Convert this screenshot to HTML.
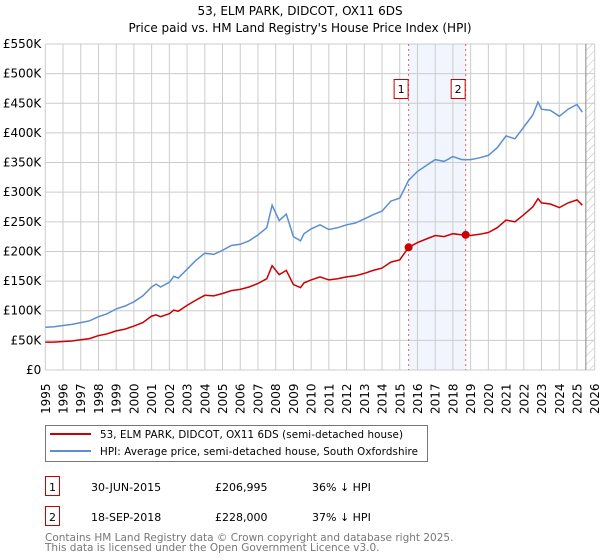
<!DOCTYPE html>
<html><head><meta charset="utf-8"><style>
body{margin:0;background:#fff;font-family:"DejaVu Sans","Liberation Sans",sans-serif;}
svg{display:block}
</style></head><body>
<svg width="600" height="560" viewBox="0 0 600 560" font-family="DejaVu Sans, Liberation Sans, sans-serif">
<text x="300" y="15" text-anchor="middle" font-size="12">53, ELM PARK, DIDCOT, OX11 6DS</text>
<text x="300" y="32" text-anchor="middle" font-size="12">Price paid vs. HM Land Registry's House Price Index (HPI)</text>
<defs><pattern id="hatch" width="6" height="6" patternUnits="userSpaceOnUse" patternTransform="rotate(45)"><line x1="0" y1="0" x2="0" y2="6" stroke="#bbb" stroke-width="1"/></pattern></defs>
<g id="grid"></g>
<g id="plot"></g>
<g id="axes" font-size="12"></g>
<g>
<rect x="45.5" y="425.5" width="382" height="36" fill="#fff" stroke="#777"/>
<line x1="50" y1="434" x2="91" y2="434" stroke="#cc0000" stroke-width="2"/>
<text x="100" y="438" font-size="10.3" textLength="303">53, ELM PARK, DIDCOT, OX11 6DS (semi-detached house)</text>
<line x1="50" y1="451" x2="91" y2="451" stroke="#5b8fd0" stroke-width="2"/>
<text x="100" y="455" font-size="10.3" textLength="318">HPI: Average price, semi-detached house, South Oxfordshire</text>
</g>
<g font-size="11">
<rect x="45.5" y="476.5" width="14" height="19" fill="none" stroke="#cc0000"/>
<text x="52.5" y="491" text-anchor="middle">1</text>
<text x="91" y="491">30-JUN-2015</text><text x="215" y="491">£206,995</text><text x="312" y="491">36% ↓ HPI</text>
<rect x="45.5" y="506.5" width="14" height="19" fill="none" stroke="#cc0000"/>
<text x="52.5" y="521" text-anchor="middle">2</text>
<text x="91" y="521">18-SEP-2018</text><text x="215" y="521">£228,000</text><text x="312" y="521">37% ↓ HPI</text>
</g>
<text x="45" y="541" font-size="10.5" fill="#777">Contains HM Land Registry data © Crown copyright and database right 2025.</text>
<text x="45" y="551" font-size="10.5" fill="#777">This data is licensed under the Open Government Licence v3.0.</text>
</svg>
<script>
const hpiYears=[1995,1995.5,1996,1996.5,1997,1997.5,1998,1998.5,1999,1999.5,2000,2000.5,2001,2001.25,2001.5,2002,2002.25,2002.5,2003,2003.5,2004,2004.5,2005,2005.5,2006,2006.5,2007,2007.5,2007.8,2008.2,2008.6,2009,2009.4,2009.6,2010,2010.5,2011,2011.5,2012,2012.5,2013,2013.5,2014,2014.5,2015,2015.5,2016,2016.5,2017,2017.5,2018,2018.5,2019,2019.5,2020,2020.5,2021,2021.5,2022,2022.5,2022.8,2023,2023.5,2024,2024.5,2025,2025.3];
const hpiValues=[72,73,75,77,80,83,90,95,103,108,115,125,140,145,140,148,158,155,170,185,197,195,202,210,212,218,228,240,278,252,263,225,218,230,238,245,237,240,245,248,255,262,268,285,290,320,335,345,355,352,360,355,355,358,362,375,395,390,410,430,452,440,438,428,440,448,435];
const priceValues=[47,47,48,49,51,53,58,61,66,69,74,80,91,93,90,95,101,99,109,118,126,125,129,134,136,140,146,154,176,161,168,144,139,147,152,157,152,154,157,159,163,168,172,182,186,207,215,221,227,225,230,228,227,229,232,240,253,250,262,275,289,282,280,274,282,287,278];
const sales=[{t:2015.5,v:206.995},{t:2018.72,v:228}];
const yTicks=[0,50,100,150,200,250,300,350,400,450,500,550];
const yTickLabels=["£0","£50K","£100K","£150K","£200K","£250K","£300K","£350K","£400K","£450K","£500K","£550K"];
const xTicks=[1995,1996,1997,1998,1999,2000,2001,2002,2003,2004,2005,2006,2007,2008,2009,2010,2011,2012,2013,2014,2015,2016,2017,2018,2019,2020,2021,2022,2023,2024,2025,2026];
const L=45.3,R=594.7,T=44,B=370;
const X=t=>L+(t-1995)/31*(R-L);
const Y=v=>B-v/550*(B-T);
const NS="http://www.w3.org/2000/svg";
function mk(tag,attrs,parent){const e=document.createElementNS(NS,tag);for(const k in attrs)e.setAttribute(k,attrs[k]);parent.appendChild(e);return e;}
const grid=document.getElementById('grid'),plot=document.getElementById('plot'),axes=document.getElementById('axes');
let r=mk('rect',{x:L,y:T,width:R-L,height:B-T,fill:'#fff'},grid);


r=mk('rect',{x:X(2015.5),y:T,width:X(2018.72)-X(2015.5),height:B-T,fill:'#eef3fc',opacity:0.8},grid);


r=mk('rect',{x:X(2025.5),y:T,width:R-X(2025.5),height:B-T,fill:'url(#hatch)'},grid);


xTicks.forEach(t=>{const l=mk('line',{x1:X(t),x2:X(t),y1:T,y2:B,stroke:'#ccc'},grid);


const tx=mk('text',{x:0,y:0,transform:`translate(${X(t)+4.5},${B+44}) rotate(-90)`},axes);tx.textContent=t;

});
yTicks.forEach((v,i)=>{const l=mk('line',{x1:L,x2:R,y1:Y(v),y2:Y(v),stroke:'#ccc'},grid);


const tx=mk('text',{x:L-4,y:Y(v)+4,'text-anchor':'end'},axes);tx.textContent=yTickLabels[i];

});
let ln=mk('line',{x1:X(2025.5),x2:X(2025.5),y1:T,y2:B,stroke:'#888'},grid);


sales.forEach((s,i)=>{const l=mk('line',{x1:X(s.t),x2:X(s.t),y1:T,y2:B,stroke:'#e06060','stroke-dasharray':'2,3'},plot);


const g=mk('g',{},plot);


mk('rect',{x:X(s.t)-14.5,y:79.5,width:14,height:19,fill:'#fff',stroke:'#cc0000'},g);
const tx=mk('text',{x:X(s.t)-7.5,y:93,'text-anchor':'middle','font-size':11},g);tx.textContent=i+1;});
function path(vals,col,name){const d=hpiYears.map((t,i)=>(i?'L':'M')+X(t).toFixed(1)+','+Y(vals[i]).toFixed(1)).join('');
const p=mk('path',{d:d,fill:'none',stroke:col,'stroke-width':1.5},plot);

}
path(hpiValues,'#5b8fd0','hpi-line');
path(priceValues,'#cc0000','price-line');
sales.forEach(s=>{const c=mk('circle',{cx:X(s.t),cy:Y(s.v),r:4,fill:'#cc0000'},plot);

});
</script>
</body></html>
